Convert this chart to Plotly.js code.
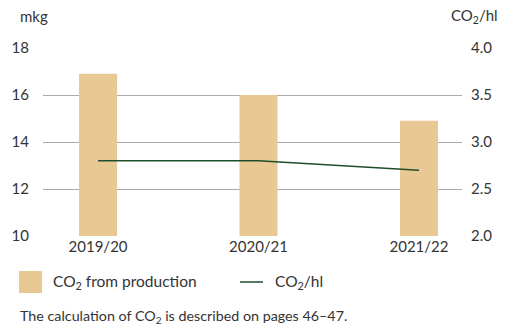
<!DOCTYPE html>
<html><head><meta charset="utf-8">
<script src="https://cdn.plot.ly/plotly-3.0.1.min.js"></script>
<style>html,body{margin:0;padding:0;background:#fff}#chart{width:506px;height:327px}</style>
</head><body><div id="chart"></div>
<script>
const categories = ["2019/20", "2020/21", "2021/22"];
const co2Production = [16.9, 16.0, 14.9];
const co2PerHl = [2.8, 2.8, 2.7];
const leftTicks = [10, 12, 14, 16, 18];
const rightTicks = [2.0, 2.5, 3.0, 3.5, 4.0];

const W = 506, H = 327, L = 43, R = 44, T = 48, B = 91;
const pw = W - L - R, ph = H - T - B;
const px = x => (x - L) / pw;
const py = y => (H - B - y) / ph;

const fam = "Lato, 'Open Sans', sans-serif";
const font = {family: fam, size: 15, color: "#333"};
const legFont = {family: fam, size: 15.5, color: "#333"};
const noteFont = {family: fam, size: 14.3, color: "#333"};
const barColor = "#E8C994", lineColor = "#1E4D2B";

const traces = [
  {type: "bar", x: [0,1,2], y: co2Production, width: 0.237, marker: {color: barColor}, hoverinfo: "skip", showlegend: false},
  {type: "scatter", mode: "lines", x: [0,1,2], y: co2PerHl, yaxis: "y2", line: {color: lineColor, width: 1.5}, hoverinfo: "skip", showlegend: false}
];

const layout = {
  width: W, height: H,
  margin: {l: L, r: R, t: T, b: B},
  paper_bgcolor: "#fff", plot_bgcolor: "#fff",
  font: font,
  showlegend: false,
  xaxis: {range: [-0.343, 2.268], tickvals: [0,1,2], ticktext: categories, showgrid: false, zeroline: false, showline: false, ticks: "", ticklen: 0, tickfont: font},
  yaxis: {range: [10, 18], tickvals: leftTicks, showgrid: true, gridcolor: "#ababab", gridwidth: 1, zeroline: false, showline: false, ticks: "outside", ticklen: 10, tickcolor: "rgba(0,0,0,0)", tickfont: font},
  yaxis2: {range: [2, 4], tickvals: rightTicks, tickformat: ".1f", overlaying: "y", side: "right", showgrid: false, zeroline: false, showline: false, ticks: "outside", ticklen: 5, tickcolor: "rgba(0,0,0,0)", tickfont: font},
  shapes: [
    {type: "rect", xref: "paper", yref: "paper", x0: px(19), x1: px(42), y0: py(293), y1: py(271), fillcolor: barColor, line: {width: 0}},
    {type: "line", xref: "paper", yref: "paper", x0: px(240), x1: px(263), y0: py(282), y1: py(282), line: {color: lineColor, width: 1.5}}
  ],
  annotations: [
    {xref: "paper", yref: "paper", x: px(18), y: py(16), text: "mkg", showarrow: false, xanchor: "left", yanchor: "middle", font: font},
    {xref: "paper", yref: "paper", x: px(500), y: py(16), text: "CO<sub>2</sub>/hl", showarrow: false, xanchor: "right", yanchor: "middle", font: font},
    {xref: "paper", yref: "paper", x: px(51), y: py(282), text: "CO<sub>2</sub> from production", showarrow: false, xanchor: "left", yanchor: "middle", font: legFont},
    {xref: "paper", yref: "paper", x: px(273), y: py(282), text: "CO<sub>2</sub>/hl", showarrow: false, xanchor: "left", yanchor: "middle", font: legFont},
    {xref: "paper", yref: "paper", x: px(18), y: py(316), text: "The calculation of CO<sub>2</sub> is described on pages 46–47.", showarrow: false, xanchor: "left", yanchor: "middle", font: noteFont}
  ]
};

Plotly.newPlot("chart", traces, layout, {displayModeBar: false, staticPlot: true});
</script></body></html>
